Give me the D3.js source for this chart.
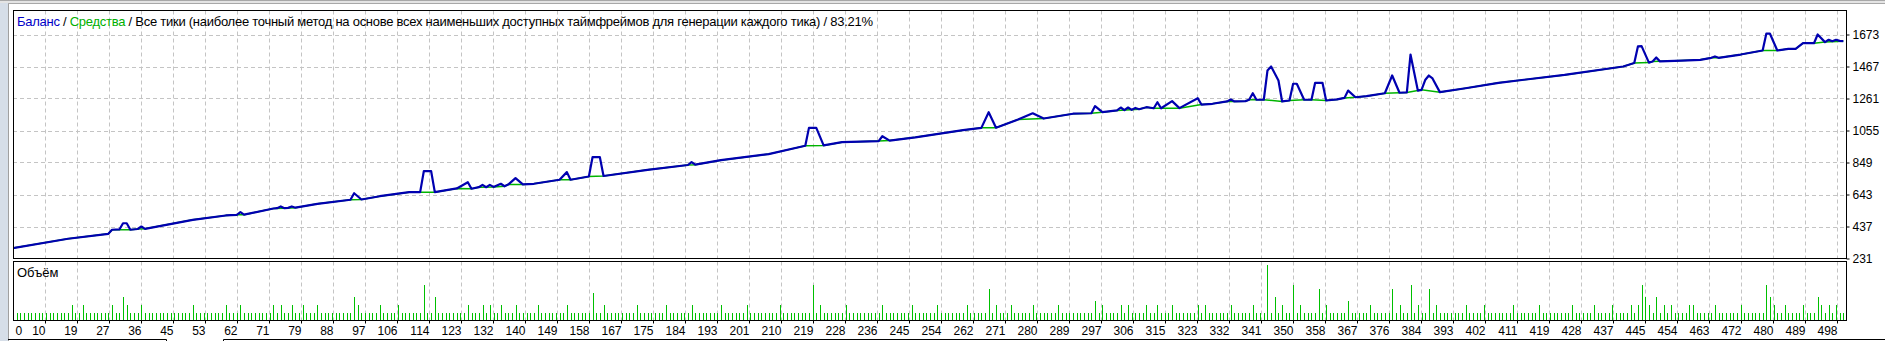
<!DOCTYPE html>
<html>
<head>
<meta charset="utf-8">
<script src="https://cdnjs.cloudflare.com/ajax/libs/d3/7.8.5/d3.min.js"></script>
<style>
  body { margin: 0; background: #fff; overflow: hidden; }
  text { font-family: "Liberation Sans", Arial, sans-serif; }
</style>
</head>
<body>
<div id="chart"></div>
<script>
// balance curve (blue), [trade, value]
var balance = [
  [0,298],[15,358],[26,390],[27,416],[29,418],[30,458],[31,458],[32,416],[34,421],[35,437],[36,422],
  [49,480],[58,508],[61,512],[62,529],[63,513],[71,553],[72,555],[73,566],[74,555],[75,557],[76,566],[77,558],
  [83,583],[92,609],[93,651],[95,611],[100,632],[108,658],[111,658],[112,793],[114,793],[115,658],
  [121,682],[124,722],[125,680],[127,690],[128,705],[129,690],[130,705],[131,692],[133,712],[134,696],
  [135,707],[137,748],[139,708],[142,712],[149,738],[151,787],[152,738],[157,759],[158,883],[160,883],[161,762],
  [173,802],[184,833],[185,852],[186,835],[193,864],[206,903],[216,957],[217,1072],[219,1072],[221,959],
  [226,980],[236,987],[237,1018],[239,990],[246,1011],[259,1057],[264,1072],[266,1173],[268,1073],
  [274,1126],[278,1166],[281,1132],[289,1163],[294,1166],[295,1212],[297,1173],[301,1184],
  [302,1203],[303,1186],[304,1203],[305,1188],[306,1200],[307,1192],[309,1205],[311,1198],[312,1237],[313,1198],
  [316,1244],[318,1199],[323,1263],[324,1222],[327,1227],[331,1242],[332,1255],[333,1242],[336,1244],
  [337,1253],[338,1295],[339,1253],[341,1253],[342,1441],[343,1467],[345,1377],[346,1242],[348,1248],
  [349,1356],[350,1356],[352,1253],[354,1253],[355,1362],[357,1362],[358,1248],[361,1255],[363,1265],
  [364,1312],[366,1269],[369,1276],[374,1295],[376,1409],[378,1298],[380,1300],[381,1544],[383,1312],
  [384,1317],[385,1380],[386,1409],[387,1390],[389,1302],[396,1327],[405,1362],[423,1413],[439,1467],
  [442,1490],[443,1596],[444,1598],[446,1492],[447,1499],[448,1525],[449,1500],[455,1505],[460,1510],
  [463,1523],[464,1532],[465,1523],[471,1544],[477,1570],[478,1678],[479,1678],[481,1570],[484,1581],
  [486,1581],[488,1617],[491,1617],[492,1673],[494,1624],[495,1639],[496,1630],[497,1639],[498,1632],[499,1630]
];

// equity curve (green), [trade, value]
var equity = [
  [0,298],[15,358],[26,390],[27,416],[32,416],[34,421],[36,422],[49,480],[58,508],[61,512],[63,513],
  [71,553],[74,555],[77,558],[83,583],[92,609],[95,611],[100,632],[108,658],[111,658],[115,658],
  [121,682],[125,680],[127,690],[131,692],[134,696],[135,707],[139,708],[142,712],[149,738],[152,738],
  [157,759],[161,762],[173,802],[184,833],[186,835],[193,864],[206,903],[216,957],[221,959],[226,980],
  [236,987],[239,990],[246,1011],[259,1057],[264,1072],[268,1073],[274,1126],[281,1132],[289,1163],
  [294,1166],[297,1173],[301,1184],[307,1192],[309,1205],[311,1198],[313,1198],[318,1199],[324,1222],
  [327,1227],[331,1242],[333,1242],[336,1244],[337,1253],[341,1253],[346,1242],[348,1248],[352,1253],
  [354,1253],[358,1248],[361,1255],[363,1265],[366,1269],[369,1276],[374,1295],[378,1298],[380,1300],
  [383,1312],[384,1317],[389,1302],[396,1327],[405,1362],[423,1413],[439,1467],[442,1490],[446,1492],
  [447,1499],[449,1500],[455,1505],[460,1510],[463,1523],[465,1523],[471,1544],[477,1570],[481,1570],
  [484,1581],[486,1581],[488,1617],[491,1617],[494,1624],[499,1630]
];

// volume per trade, trades 1..499
var volume = [
  1,1,1,1,1,1,1,1,1,1,1,1,1,1,1,2,1,1,2,1,
  1,1,1,1,1,1,2,1,1,3,2,1,1,1,2,1,1,1,1,1,
  1,1,1,1,1,1,1,1,2,1,1,1,1,1,1,1,1,2,1,1,
  1,2,1,1,1,1,1,1,1,1,2,1,2,1,1,2,1,1,2,1,
  1,1,2,1,1,1,1,1,1,1,1,1,3,2,1,1,1,1,1,2,
  1,1,1,1,2,1,1,1,1,1,1,4.5,1,1,3,1,1,1,1,1,
  1,1,1,2,1,1,1,2,1,2,1,1,2,1,1,1,2,1,1,1,
  1,1,2,1,1,1,1,1,1,1,2,1,1,1,1,1,1,3.5,1,1,
  2,1,1,1,1,1,1,1,1,2,1,1,1,1,1,1,1,2,1,1,
  1,1,1,1,2,1,1,1,1,1,1,1,2,1,1,1,1,1,1,2,
  1,1,1,1,1,1,1,1,2,1,1,1,1,1,1,1,1,4.5,1,2,
  1,1,1,1,1,1,2,1,1,1,1,1,1,1,1,1,2,1,1,1,
  1,1,1,1,2,1,1,1,1,1,1,2,1,1,1,1,1,1,1,2,
  1,1,1,1,1,4,1,2,1,1,1,2,1,1,1,1,1,2,1,1,
  1,1,1,1,2,1,1,1,1,1,1,1,1,1,2.5,1,2,1,1,1,
  1,2,1,2,1,1,1,1,2,1,1,2,1,1,1,2,1,1,1,1,
  1,1,2,1,2,1,1,1,1,1,1,2,1,1,1,1,1,2,1,1,
  1,7,1,3,1,2,1,1,4.5,1,2,1,1,1,1,4,1,2,1,1,
  1,1,1,2.5,1,1,1,1,1,2,1,1,1,1,1,4,1,2,1,1,
  4.5,1,2,1,1,4,1,2,1,1,1,1,1,1,1,2,1,1,1,1,
  2,1,1,1,1,1,1,1,2,1,1,1,1,1,1,2,1,1,1,1,
  1,1,1,1,2,1,1,1,1,1,2,1,1,1,1,2,1,1,1,1,
  2,1,2,4.5,3,2,1,3,1,2,1,2,1,1,1,1,2,2,1,1,
  1,1,1,2,1,1,1,1,1,1,2,1,1,1,1,1,1,4.5,3,2,
  1,1,2,1,1,1,1,2,1,1,1,3,2,1,2,1,2,1,1
];

var yTicks = [231, 437, 643, 849, 1055, 1261, 1467, 1673];
var xLabels = ["0","10","19","27","36","45","53","62","71","79","88","97","106","114","123","132","140",
  "149","158","167","175","184","193","201","210","219","228","236","245","254","262","271","280","289",
  "297","306","315","323","332","341","350","358","367","376","384","393","402","411","419","428","437",
  "445","454","463","472","480","489","498"];

var svgWidth = 1885, svgHeight = 341;
// panel edges
var edge = { left: 13, right: 1846.5, top: 10.5, mainBottom: 258.5, volTop: 261.5, bottom: 320.5 };

var svg = d3.select("#chart").append("svg")
  .attr("width", svgWidth)
  .attr("height", svgHeight);

// window chrome
svg.append("rect").attr("x", 0).attr("y", 0).attr("width", 8).attr("height", svgHeight).attr("fill", "#d6dee8");
svg.append("line").attr("x1", 8.5).attr("x2", 8.5).attr("y1", 3).attr("y2", svgHeight).attr("stroke", "#a0a0a0");
svg.append("rect").attr("x", 0).attr("y", 0).attr("width", svgWidth).attr("height", 3).attr("fill", "#e4e4e4");
svg.append("line").attr("x1", 0).attr("x2", svgWidth).attr("y1", 0.5).attr("y2", 0.5).attr("stroke", "#a8a8a8");
svg.append("line").attr("x1", 8).attr("x2", svgWidth).attr("y1", 3.5).attr("y2", 3.5).attr("stroke", "#a8a8a8");
svg.append("path").attr("d", "M8,339.5H166.5V341M223.5,341V339.5H1885").attr("fill", "none").attr("stroke", "#000");

// scales
var x = d3.scaleLinear().domain([0, 500]).range([edge.left, 1847]);
var y = d3.scaleLinear().domain([231, 1673]).range([edge.mainBottom, 34.5]);
var yVol = d3.scaleLinear().domain([0, 7.5]).range([edge.bottom, edge.volTop]);
var gridX = d3.scaleLinear().domain([0, xLabels.length - 1]).range([edge.left, 1837]);

// grid
var grid = svg.append("g").attr("stroke", "#c4c4c4").attr("stroke-dasharray", "4,3");
d3.range(1, xLabels.length).forEach(function(k) {
  var gx = Math.round(gridX(k)) + 0.5;
  grid.append("line").attr("x1", gx).attr("x2", gx).attr("y1", edge.top).attr("y2", edge.mainBottom);
  grid.append("line").attr("x1", gx).attr("x2", gx).attr("y1", edge.volTop).attr("y2", edge.bottom);
});
yTicks.slice(1).forEach(function(t) {
  var gy = Math.round(y(t)) + 0.5;
  grid.append("line").attr("x1", edge.left).attr("x2", edge.right).attr("y1", gy).attr("y2", gy);
});

// clip for main panel
svg.append("clipPath").attr("id", "mainClip")
  .append("rect").attr("x", edge.left).attr("y", edge.top)
  .attr("width", edge.right - edge.left).attr("height", edge.mainBottom - edge.top);

var lineGen = d3.line()
  .x(function(d) { return x(d[0]); })
  .y(function(d) { return y(d[1]); });

var plot = svg.append("g").attr("clip-path", "url(#mainClip)");
plot.append("path")
  .datum(equity)
  .attr("d", lineGen)
  .attr("fill", "none")
  .attr("stroke", "#00b400")
  .attr("stroke-width", 1.5);
plot.append("path")
  .datum(balance)
  .attr("d", lineGen)
  .attr("fill", "none")
  .attr("stroke", "#0000b0")
  .attr("stroke-width", 2.2)
  .attr("stroke-linejoin", "round");

// volume bars
svg.append("g").selectAll("line")
  .data(volume)
  .enter()
  .append("line")
  .attr("x1", function(d, i) { return Math.round(x(i + 1)) + 0.5; })
  .attr("x2", function(d, i) { return Math.round(x(i + 1)) + 0.5; })
  .attr("y1", yVol(0))
  .attr("y2", function(d) { return Math.round(yVol(d)); })
  .attr("stroke", "#00c000")
  .attr("stroke-width", 1);

// frames
var frames = svg.append("g").attr("fill", "none").attr("stroke", "#000");
frames.append("rect").attr("x", edge.left + 0.5).attr("y", edge.top)
  .attr("width", edge.right - edge.left - 0.5).attr("height", edge.mainBottom - edge.top);
frames.append("rect").attr("x", edge.left + 0.5).attr("y", edge.volTop)
  .attr("width", edge.right - edge.left - 0.5).attr("height", edge.bottom - edge.volTop);

// right axis
var rightAxis = d3.axisRight(y).tickValues(yTicks).tickSize(3).tickPadding(3).tickFormat(d3.format("d"));
var ry = svg.append("g")
  .attr("transform", "translate(" + edge.right + ",0)")
  .call(rightAxis);
ry.select(".domain").remove();
ry.selectAll("text").attr("font-size", 12).attr("font-family", "Liberation Sans, Arial, sans-serif").attr("fill", "#000");
ry.selectAll("line").attr("stroke", "#000");

// bottom axis
var bottomAxis = d3.axisBottom(gridX).tickValues(d3.range(xLabels.length)).tickSize(3)
  .tickFormat(function(k) { return xLabels[k]; });
var bx = svg.append("g")
  .attr("transform", "translate(0," + edge.bottom + ")")
  .call(bottomAxis);
bx.select(".domain").remove();
bx.selectAll("line").attr("stroke", "#000");
bx.selectAll("text")
  .attr("font-size", 12)
  .attr("font-family", "Liberation Sans, Arial, sans-serif")
  .attr("fill", "#000")
  .attr("y", 14.5)
  .attr("dy", null)
  .attr("text-anchor", function(k) { return k === 0 ? "start" : "end"; })
  .attr("x", function(k) { return k === 0 ? 2 : 0; });
bx.selectAll(".tick").filter(function(k) { return k === 0; }).select("line").remove();

// legend text
var legend = svg.append("text").attr("x", 17).attr("y", 26).attr("font-size", 13)
  .attr("textLength", 856).attr("lengthAdjust", "spacing");
legend.append("tspan").attr("fill", "#0000c8").text("Баланс");
legend.append("tspan").attr("fill", "#000").text(" / ");
legend.append("tspan").attr("fill", "#00b000").text("Средства");
legend.append("tspan").attr("fill", "#000").text(" / Все тики (наиболее точный метод на основе всех наименьших доступных таймфреймов для генерации каждого тика) / 83.21%");

svg.append("text").attr("x", 17).attr("y", 277).attr("font-size", 13).attr("fill", "#000").text("Объём");
</script>
</body>
</html>
